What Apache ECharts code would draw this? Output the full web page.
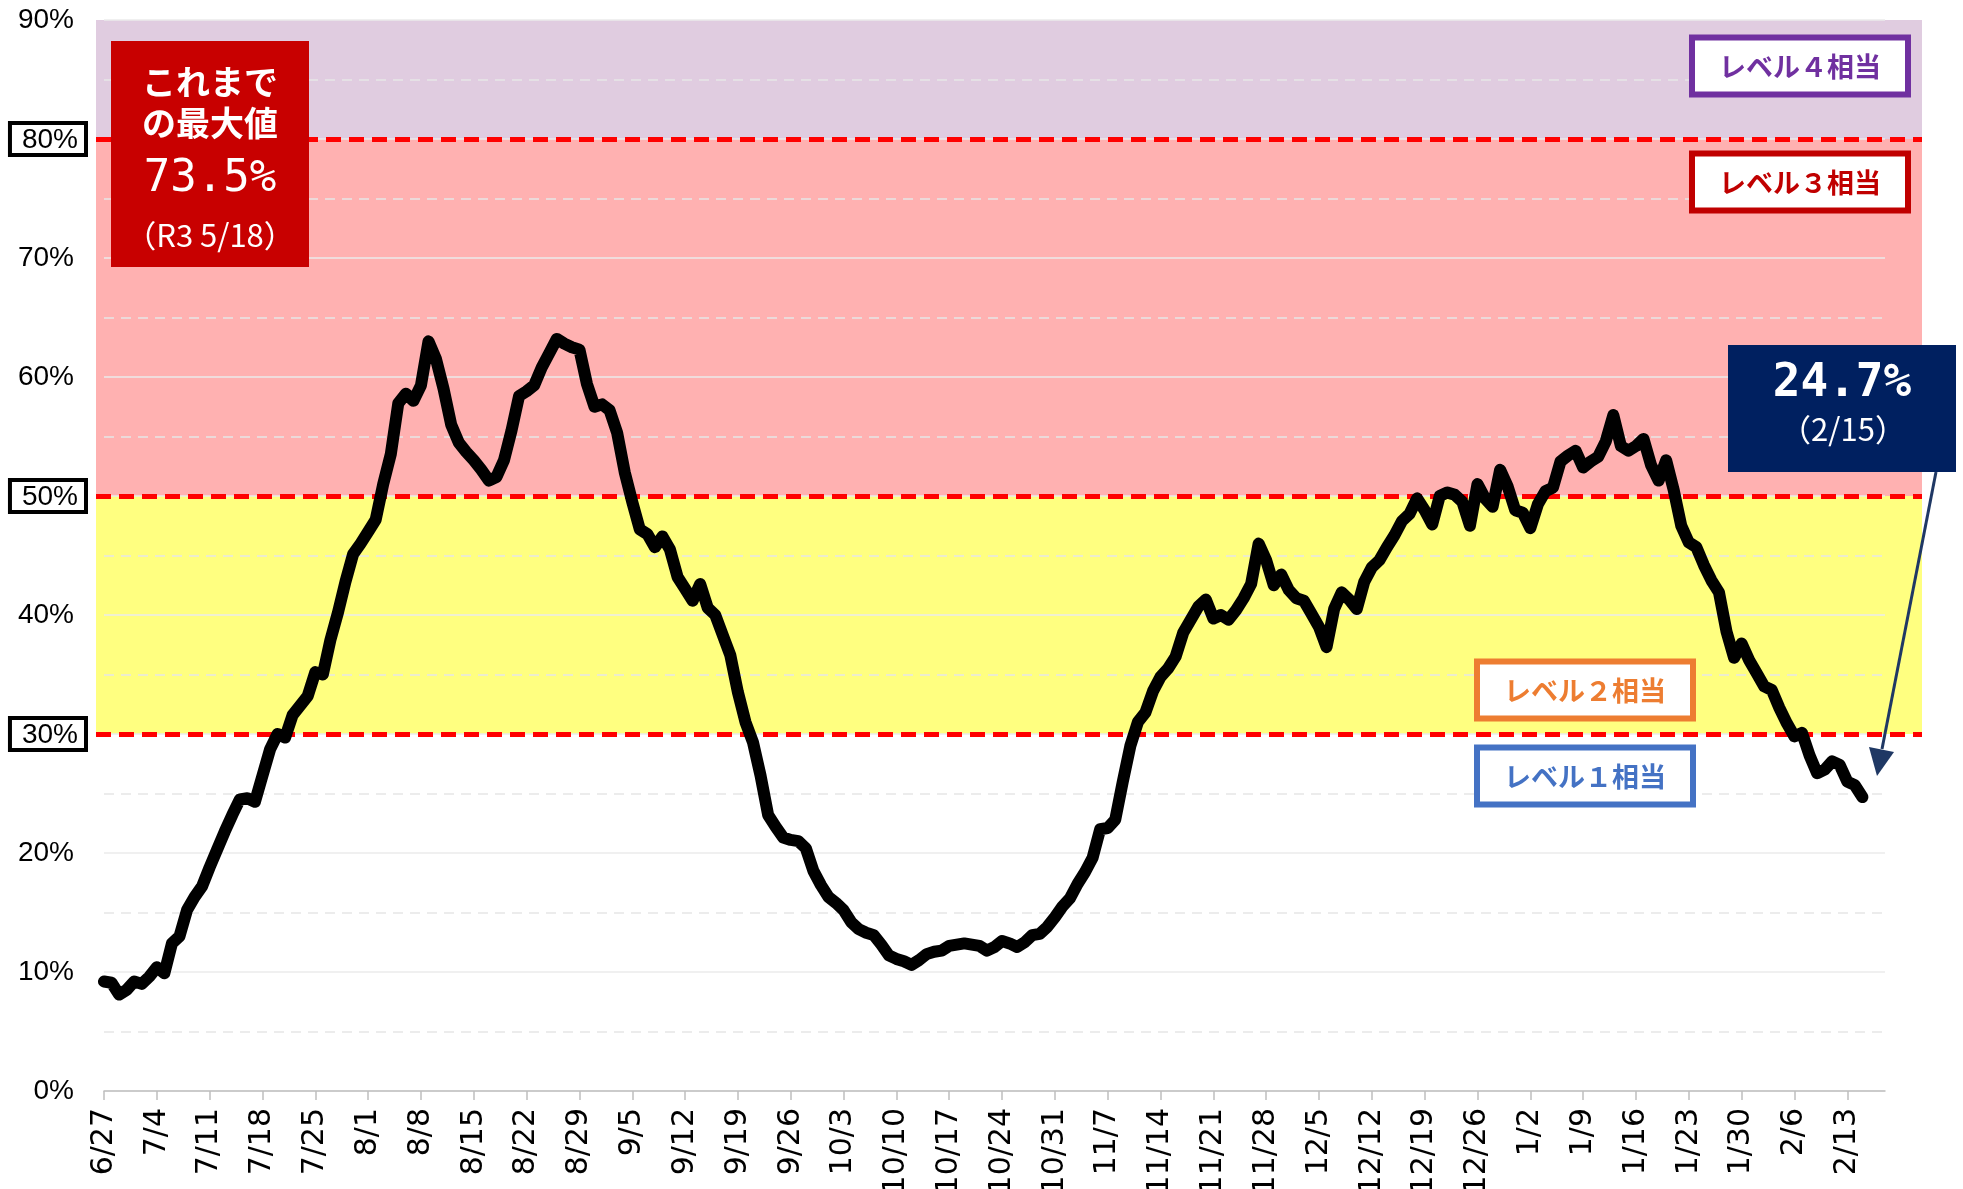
<!DOCTYPE html>
<html>
<head>
<meta charset="utf-8">
<script src="https://cdn.jsdelivr.net/npm/echarts@6/dist/echarts.min.js"></script>
<style>
  html, body { margin: 0; padding: 0; background: #fff; }
  #myChart { width: 1963px; height: 1189px; }
</style>
</head>
<body>
<div id="myChart"></div>
<script>
/* 病床使用率の推移 */
var startDate = [2022, 6, 27];   // 最初の日付 6/27
var dayCount = 237;              // 横軸は 2/18 まで

// 日ごとの値 (%) 6/27 〜 2/15
var rate = [
    9.2, 9.1, 8.1, 8.5, 9.2, 9.0, 9.6,
    10.4, 9.9, 12.4, 13.0, 15.2, 16.3, 17.2,
    18.8, 20.3, 21.8, 23.2, 24.5, 24.6, 24.3,
    26.5, 28.7, 30.0, 29.7, 31.6, 32.4, 33.2,
    35.2, 35.0, 37.9, 40.2, 42.8, 45.1, 46.0,
    47.0, 48.0, 51.0, 53.5, 57.8, 58.6, 58.0,
    59.3, 63.0, 61.5, 59.0, 56.0, 54.5, 53.7,
    53.0, 52.2, 51.3, 51.6, 53.0, 55.5, 58.4,
    58.8, 59.3, 60.8, 62.0, 63.2, 62.8, 62.5,
    62.3, 59.4, 57.5, 57.7, 57.2, 55.3, 52.0,
    49.5, 47.2, 46.8, 45.7, 46.6, 45.5, 43.2,
    42.2, 41.2, 42.6, 40.6, 40.0, 38.3, 36.6,
    33.5, 31.0, 29.3, 26.5, 23.2, 22.2, 21.3,
    21.1, 21.0, 20.4, 18.5, 17.3, 16.3, 15.8,
    15.2, 14.2, 13.6, 13.3, 13.1, 12.3, 11.4,
    11.1, 10.9, 10.6, 11.0, 11.5, 11.7, 11.8,
    12.2, 12.3, 12.4, 12.3, 12.2, 11.8, 12.1,
    12.6, 12.4, 12.1, 12.5, 13.1, 13.2, 13.8,
    14.6, 15.5, 16.2, 17.4, 18.4, 19.6, 22.0,
    22.1, 22.8, 26.0, 29.0, 31.0, 31.8, 33.6,
    34.8, 35.5, 36.5, 38.5, 39.6, 40.7, 41.3,
    39.7, 40.0, 39.6, 40.4, 41.4, 42.6, 46.0,
    44.6, 42.5, 43.4, 42.1, 41.4, 41.2, 40.1,
    39.0, 37.3, 40.5, 41.9, 41.3, 40.5, 42.8,
    44.0, 44.6, 45.7, 46.7, 47.9, 48.5, 49.8,
    48.8, 47.6, 50.0, 50.3, 50.1, 49.5, 47.5,
    51.0, 49.8, 49.1, 52.2, 50.8, 48.8, 48.6,
    47.3, 49.3, 50.4, 50.7, 52.9, 53.4, 53.8,
    52.4, 52.9, 53.3, 54.6, 56.8, 54.2, 53.8,
    54.2, 54.8, 52.6, 51.3, 53.0, 50.5, 47.5,
    46.1, 45.7, 44.2, 42.9, 41.9, 38.6, 36.4,
    37.6, 36.2, 35.1, 34.0, 33.7, 32.2, 30.9,
    29.8, 30.1, 28.2, 26.7, 27.0, 27.7, 27.4,
    26.0, 25.7, 24.7
];

var yTicks = [0, 10, 20, 30, 40, 50, 60, 70, 80, 90];
var boxedTicks = [30, 50, 80];          // 枠付きの目盛
var levelLines = [30, 50, 80];          // 赤い破線
var bandBounds = [30, 50, 80, 90];      // 背景の帯
var bandColors = ['#FFFF80', '#FFB1B1', '#E0CCE0'];

var maxText = ['これまで', 'の最大値', '73.5%', '（R3 5/18）'];
var lastText = ['24.7%', '（2/15）'];
var levels = [
    { text: 'レベル４相当', color: '#7030A0' },
    { text: 'レベル３相当', color: '#C00000' },
    { text: 'レベル２相当', color: '#ED7D31' },
    { text: 'レベル１相当', color: '#4472C4' }
];

var myChart;

function buildDays() {
    var days = [];
    var d = new Date(startDate[0], startDate[1] - 1, startDate[2]);
    for (var i = 0; i < dayCount; i++) {
        days.push((d.getMonth() + 1) + '/' + d.getDate());
        d.setDate(d.getDate() + 1);
    }
    return days;
}

function levelBox(cx, cy, lv) {
    var w = 222, h = 63, bw = 6;
    return {
        type: 'group',
        z: 20,
        children: [{
            type: 'rect',
            z: 20,
            shape: { x: cx - w / 2 + bw / 2, y: cy - h / 2 + bw / 2, width: w - bw, height: h - bw },
            style: { fill: '#fff', stroke: lv.color, lineWidth: bw }
        }, {
            type: 'text',
            z: 21,
            x: cx,
            y: cy + 1,
            style: {
                text: lv.text,
                fill: lv.color,
                fontSize: 27,
                fontWeight: 'bold',
                fontFamily: '"Noto Sans CJK JP"',
                align: 'center', verticalAlign: 'middle',
                textAlign: 'center', textVerticalAlign: 'middle'
            }
        }]
    };
}

function txt(x, y, text, size, family, weight) {
    return {
        type: 'text',
        z: 21,
        x: x,
        y: y,
        style: {
            text: text,
            fill: '#fff',
            fontSize: size,
            fontWeight: weight || 'normal',
            fontFamily: family,
            align: 'center', verticalAlign: 'middle',
            textAlign: 'center', textVerticalAlign: 'middle'
        }
    };
}

function getGraphics() {
    var g = [];
    // これまでの最大値
    g.push({ type: 'rect', z: 20, shape: { x: 111, y: 41, width: 198, height: 226 }, style: { fill: '#C80000' } });
    g.push(txt(210, 82, maxText[0], 34, '"Noto Sans CJK JP"', 'bold'));
    g.push(txt(210, 123, maxText[1], 34, '"Noto Sans CJK JP"', 'bold'));
    g.push(txt(210, 180, maxText[2], 44, '"DejaVu Sans Mono"'));
    g.push(txt(210, 235, maxText[3], 31, '"Noto Sans CJK JP"'));

    // 最新値
    g.push({ type: 'rect', z: 20, shape: { x: 1728, y: 345, width: 228, height: 127 }, style: { fill: '#002060' } });
    g.push(txt(1842, 384, lastText[0], 46, '"DejaVu Sans Mono"', 'bold'));
    g.push(txt(1843, 429, lastText[1], 31, '"Noto Sans CJK JP"'));
    g.push({ type: 'line', z: 20, shape: { x1: 1936, y1: 472, x2: 1882, y2: 749 }, style: { stroke: '#1F3864', lineWidth: 3 } });
    g.push({ type: 'polygon', z: 20, shape: { points: [[1877, 776], [1869, 747], [1894, 752]] }, style: { fill: '#1F3864' } });

    // レベル表示
    g.push(levelBox(1800, 66, levels[0]));
    g.push(levelBox(1800, 182, levels[1]));
    g.push(levelBox(1585, 690, levels[2]));
    g.push(levelBox(1585, 776, levels[3]));
    return g;
}

function doDraw() {
    var days = buildDays();
    var bandData = [];
    for (var i = 0; i < bandColors.length; i++) {
        bandData.push([{ yAxis: bandBounds[i], itemStyle: { color: bandColors[i] } }, { yAxis: bandBounds[i + 1] }]);
    }

    var option = {
        animation: false,
        backgroundColor: '#fff',
        grid: [
            { left: 104, right: 78, top: 20, bottom: 98, outerBoundsMode: 'none' },
            { left: 96, right: 41, top: 20, bottom: 98, outerBoundsMode: 'none' }
        ],
        xAxis: [{
            type: 'category',
            gridIndex: 0,
            boundaryGap: false,
            data: days,
            z: 2,
            axisLine: { lineStyle: { color: '#BFBFBF', width: 1.5 } },
            axisTick: { show: true, interval: 6, length: 9, lineStyle: { color: '#BFBFBF', width: 1.5 } },
            axisLabel: {
                interval: 6,
                rotate: 90,
                margin: 17,
                color: '#000',
                fontSize: 30,
                fontFamily: '"DejaVu Sans"'
            },
            splitLine: { show: false }
        }, {
            type: 'value',
            gridIndex: 1,
            min: 0,
            max: 1,
            show: false
        }],
        yAxis: [{
            type: 'value',
            gridIndex: 0,
            min: yTicks[0],
            max: yTicks[yTicks.length - 1],
            interval: 10,
            z: 2,
            axisLine: { show: false },
            axisTick: { show: false },
            axisLabel: {
                margin: 18,
                formatter: function (v) {
                    return boxedTicks.indexOf(v) > -1 ? '{b|' + v + '%}' : '{n|' + v + '%}';
                },
                rich: {
                    n: { fontSize: 28, fontFamily: '"Liberation Sans"', color: '#000', padding: [0, 12, 0, 0] },
                    b: {
                        fontSize: 28, fontFamily: '"Liberation Sans"', color: '#000',
                        borderColor: '#000', borderWidth: 4, padding: [3, 8, 1, 12], lineHeight: 29
                    }
                }
            },
            splitLine: { show: true, lineStyle: { color: '#EBEBEB', width: 1.5 } },
            minorTick: { show: false, splitNumber: 2 },
            minorSplitLine: { show: true, lineStyle: { color: '#E6E6E6', width: 1.5, type: [10, 7] } }
        }, {
            type: 'value',
            gridIndex: 1,
            min: 0,
            max: 90,
            show: false
        }],
        series: [{
            name: 'band',
            type: 'line',
            xAxisIndex: 1,
            yAxisIndex: 1,
            z: 1,
            silent: true,
            data: [[0, 0], [1, 0]],
            showSymbol: false,
            lineStyle: { opacity: 0 },
            markArea: { silent: true, data: bandData }
        }, {
            name: 'level',
            type: 'line',
            xAxisIndex: 1,
            yAxisIndex: 1,
            z: 3,
            silent: true,
            data: [[0, 0], [1, 0]],
            showSymbol: false,
            lineStyle: { opacity: 0 },
            markLine: {
                silent: true,
                symbol: ['none', 'none'],
                label: { show: false },
                lineStyle: { color: '#FF0000', width: 5, type: [15, 8] },
                data: levelLines.map(function (v) { return { yAxis: v }; })
            }
        }, {
            name: '病床使用率',
            type: 'line',
            xAxisIndex: 0,
            yAxisIndex: 0,
            z: 5,
            data: rate,
            showSymbol: false,
            lineStyle: { color: '#000', width: 12, cap: 'round', join: 'round' }
        }],
        graphic: getGraphics()
    };
    myChart.setOption(option);
}

myChart = echarts.init(document.getElementById('myChart'));
doDraw();
</script>
</body>
</html>
